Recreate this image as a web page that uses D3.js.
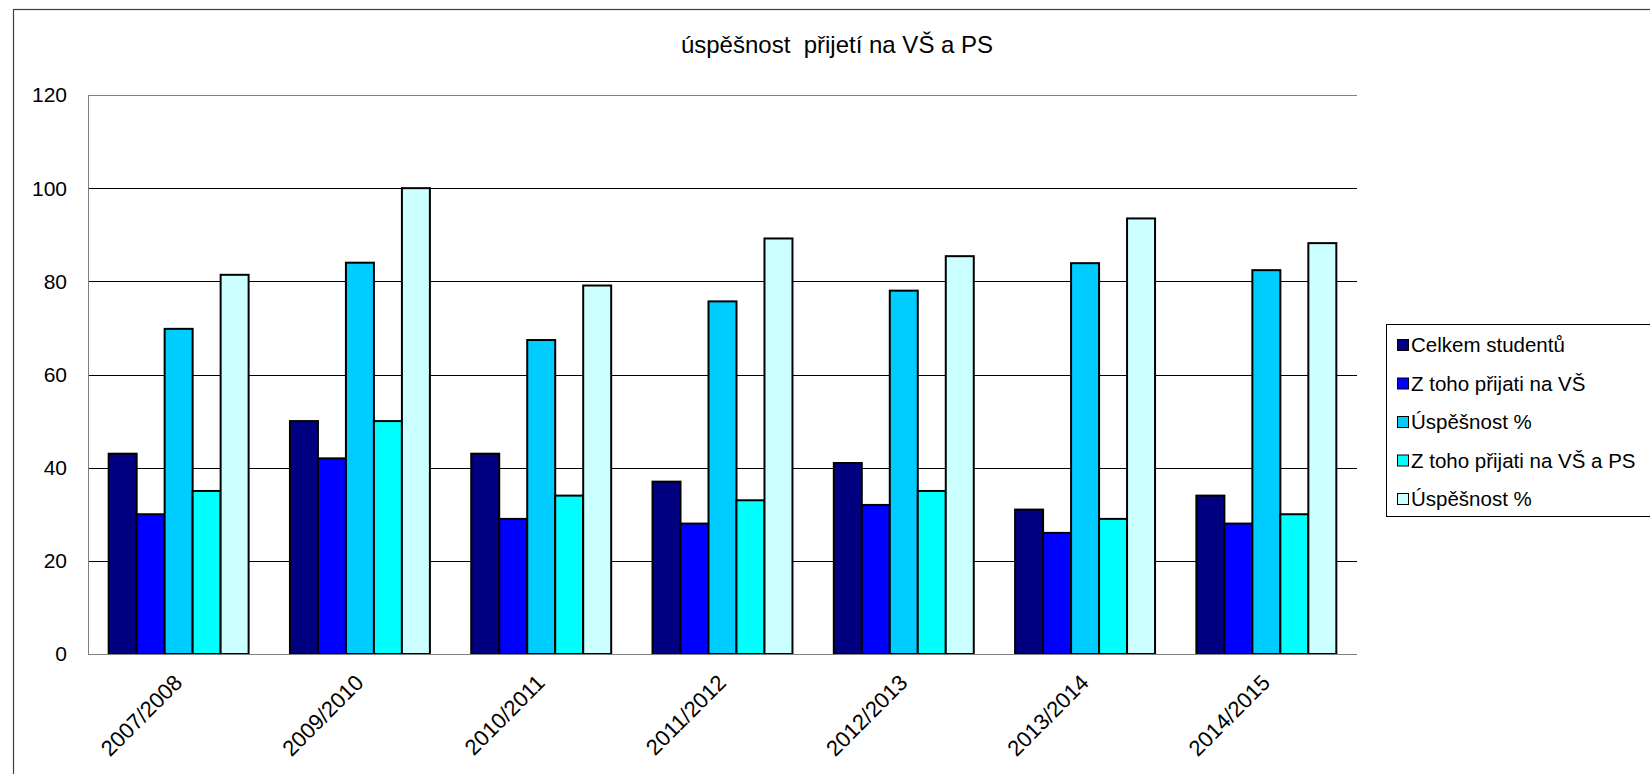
<!DOCTYPE html>
<html>
  <head>
    <meta charset="utf-8">
    <script src="https://d3js.org/d3.v7.min.js"></script>
    <style>
      body { margin: 0; background: #fff; }
      svg { display: block; font-family: "Liberation Sans", Arial, sans-serif; }
      .bar { stroke: #000; stroke-width: 2px; }
      .grid line { stroke: #000; stroke-width: 1px; }
      .ytick { font-size: 21px; fill: #000; }
      .xtick { font-size: 22px; fill: #000; }
      .legend text { font-size: 20.5px; fill: #000; }
    </style>
  </head>
  <body>
    <div id="chart"></div>
    <script>
      // data
      var categories = ["2007/2008", "2009/2010", "2010/2011", "2011/2012", "2012/2013", "2013/2014", "2014/2015"];
      var celkem      = [43, 50, 43, 37, 41, 31, 34];
      var prijatiVS   = [30, 42, 29, 28, 32, 26, 28];
      var uspesnost1  = [69.8, 84, 67.4, 75.7, 78, 83.9, 82.4];
      var prijatiVSPS = [35, 50, 34, 33, 35, 29, 30];
      var uspesnost2  = [81.4, 100, 79.1, 89.2, 85.4, 93.5, 88.2];
      var seriesNames = ["Celkem studentů", "Z toho přijati na VŠ", "Úspěšnost %", "Z toho přijati na VŠ a PS", "Úspěšnost %"];
      var seriesValues = [celkem, prijatiVS, uspesnost1, prijatiVSPS, uspesnost2];
      var colors = ["#000080", "#0000ff", "#00ccff", "#00ffff", "#ccffff"];
      var yTicks = [0, 20, 40, 60, 80, 100, 120];

      var width = 1650, height = 774;
      var plotLeft = 88, plotRight = 1357, plotTop = 95, plotBottom = 654;

      var svg = d3.select("#chart").append("svg")
          .attr("width", width)
          .attr("height", height);

      // outer chart border (cropped at right and bottom)
      svg.append("rect")
         .attr("x", 13.5).attr("y", 9.5)
         .attr("width", 1700).attr("height", 800)
         .attr("fill", "none").attr("stroke", "#404040").attr("stroke-width", 1.2);

      var x0 = d3.scaleBand()
          .domain(categories)
          .range([plotLeft, plotRight])
          .paddingInner(0.228)
          .paddingOuter(0.114);
      var x1 = d3.scaleBand()
          .domain(d3.range(seriesNames.length))
          .range([0, x0.bandwidth()]);
      var y = d3.scaleLinear().domain([0, 120]).range([plotBottom, plotTop]);

      // gridlines
      svg.append("g").attr("class", "grid")
         .selectAll("line")
         .data(yTicks.filter(function(d) { return d > 0 && d < 120; }))
         .enter().append("line")
         .attr("x1", plotLeft).attr("x2", plotRight)
         .attr("y1", function(d) { return Math.round(y(d)) + 0.5; })
         .attr("y2", function(d) { return Math.round(y(d)) + 0.5; });

      // plot area frame lines (grey)
      svg.append("line").attr("x1", plotLeft).attr("x2", plotRight)
         .attr("y1", Math.round(y(120)) + 0.5).attr("y2", Math.round(y(120)) + 0.5)
         .attr("stroke", "#808080");
      svg.append("line").attr("x1", plotLeft + 0.5).attr("x2", plotLeft + 0.5)
         .attr("y1", y(120)).attr("y2", y(0))
         .attr("stroke", "#808080");

      // bars
      var groups = svg.append("g").selectAll("g")
          .data(categories)
          .enter().append("g")
          .attr("transform", function(d) { return "translate(" + x0(d) + ",0)"; });

      groups.selectAll("rect")
          .data(function(d, i) { return seriesValues.map(function(s, j) { return { s: j, v: s[i] }; }); })
          .enter().append("rect")
          .attr("class", "bar")
          .attr("x", function(d) { return x1(d.s); })
          .attr("width", x1.bandwidth())
          .attr("y", function(d) { return y(d.v); })
          .attr("height", function(d) { return y(0) - y(d.v); })
          .attr("fill", function(d) { return colors[d.s]; });

      // x baseline
      svg.append("line").attr("x1", plotLeft).attr("x2", plotRight)
         .attr("y1", Math.round(y(0)) + 0.5).attr("y2", Math.round(y(0)) + 0.5)
         .attr("stroke", "#808080");

      // y tick labels
      svg.append("g").selectAll("text")
         .data(yTicks)
         .enter().append("text")
         .attr("class", "ytick")
         .attr("x", 67)
         .attr("y", function(d) { return y(d); })
         .attr("dy", "0.35em")
         .attr("text-anchor", "end")
         .text(function(d) { return d; });

      // x tick labels, rotated
      svg.append("g").selectAll("text")
         .data(categories)
         .enter().append("text")
         .attr("class", "xtick")
         .attr("text-anchor", "end")
         .attr("transform", function(d) {
             return "translate(" + (x0(d) + x0.bandwidth() / 2 + 5) + "," + 684 + ") rotate(-45)";
         })
         .text(function(d) { return d; });

      // title
      svg.append("text")
         .attr("x", 837).attr("y", 53)
         .attr("text-anchor", "middle")
         .style("font-size", "24px")
         .style("white-space", "pre")
         .text("úspěšnost  přijetí na VŠ a PS");

      // legend
      var legend = svg.append("g").attr("class", "legend");
      legend.append("rect")
         .attr("x", 1386.5).attr("y", 324.5)
         .attr("width", 400).attr("height", 192)
         .attr("fill", "#fff").attr("stroke", "#000").attr("stroke-width", 1);
      var items = legend.selectAll("g.item")
         .data(seriesNames)
         .enter().append("g")
         .attr("class", "item")
         .attr("transform", function(d, i) { return "translate(1397," + (345 + i * 38.5) + ")"; });
      items.append("rect")
         .attr("x", 0.5).attr("y", -5.5)
         .attr("width", 11).attr("height", 11)
         .attr("fill", function(d, i) { return colors[i]; })
         .attr("stroke", "#000").attr("stroke-width", 1);
      items.append("text")
         .attr("x", 14).attr("dy", "0.35em")
         .text(function(d) { return d; });
    </script>
  </body>
</html>
